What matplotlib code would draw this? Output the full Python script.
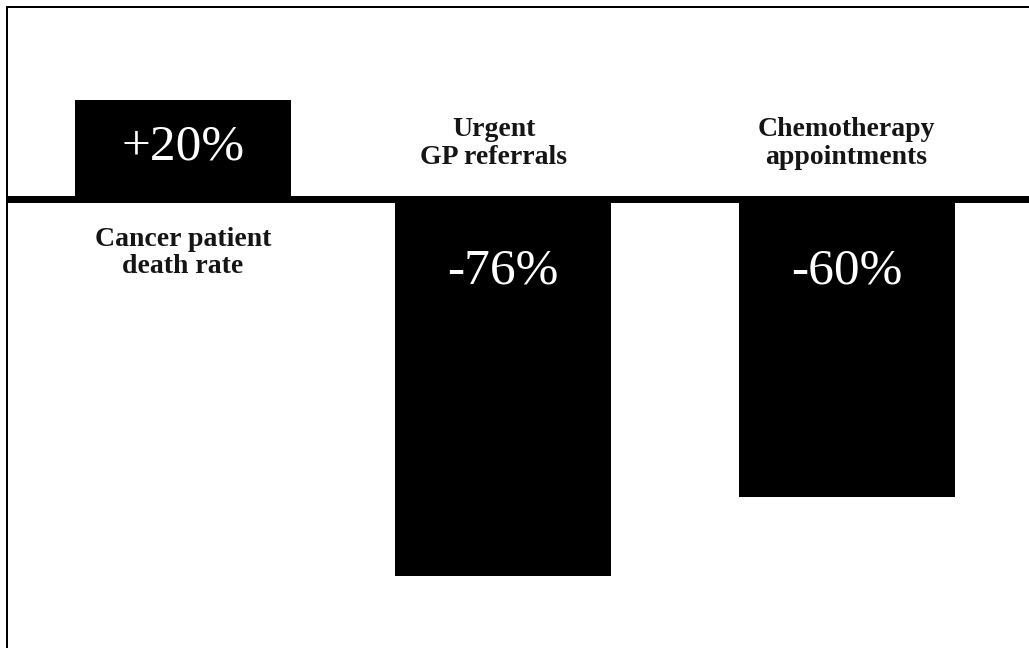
import matplotlib
matplotlib.use("Agg")
import matplotlib.pyplot as plt
from matplotlib.lines import Line2D

# Data
categories = ["Cancer patient\ndeath rate", "Urgent\nGP referrals", "Chemotherapy\nappointments"]
changes = [20, -76, -60]
value_labels = ["+20%", "-76%", "-60%"]

# Layout (pixel-based canvas)
W, H, DPI = 1029, 648, 100
bar_centers = [183, 503, 846.5]
bar_width = 216
zero_px = 199.5          # baseline position from top
px_per_unit = 4.96       # vertical scale

fig = plt.figure(figsize=(W / DPI, H / DPI), dpi=DPI)
ax = fig.add_axes([0, 0, 1, 1])
ax.set_xlim(0, W)
ax.set_ylim((zero_px - H) / px_per_unit, zero_px / px_per_unit)
ax.axis("off")

ax.bar(bar_centers, changes, width=bar_width, color="black", edgecolor="none", zorder=2)

# Baseline
ax.plot([6, W], [0, 0], color="black", linewidth=7 * 72 / DPI, solid_capstyle="butt", zorder=3)

serif = ["Liberation Serif", "DejaVu Serif"]

# Value labels inside the bars
for x, v, lab in zip(bar_centers, changes, value_labels):
    ly = v - 9.5 if v > 0 else -14.4
    ax.text(x, ly, lab, color="white", fontsize=37, family=serif,
            ha="center", va="center", zorder=4)

# Category labels on the opposite side of the baseline
label_x_shift = [0, -9, 0]
for x, v, cat, dx in zip(bar_centers, changes, categories, label_x_shift):
    cy = -5.5 if v > 0 else 16.6
    ax.text(x + dx, cy, cat, color="#151515", fontsize=20, family=serif,
            fontweight="bold", ha="center", va="top", linespacing=1.13,
            multialignment="center", zorder=4)

# Frame lines along the top and left edges
fig.add_artist(Line2D([6.5 / W, 6.5 / W], [0, 1 - 5.5 / H], transform=fig.transFigure,
                      color="black", linewidth=2 * 72 / DPI, solid_capstyle="butt"))
fig.add_artist(Line2D([5.5 / W, 1], [1 - 6.5 / H, 1 - 6.5 / H], transform=fig.transFigure,
                      color="black", linewidth=2 * 72 / DPI, solid_capstyle="butt"))

fig.savefig("out.png", dpi=DPI, facecolor="white")
